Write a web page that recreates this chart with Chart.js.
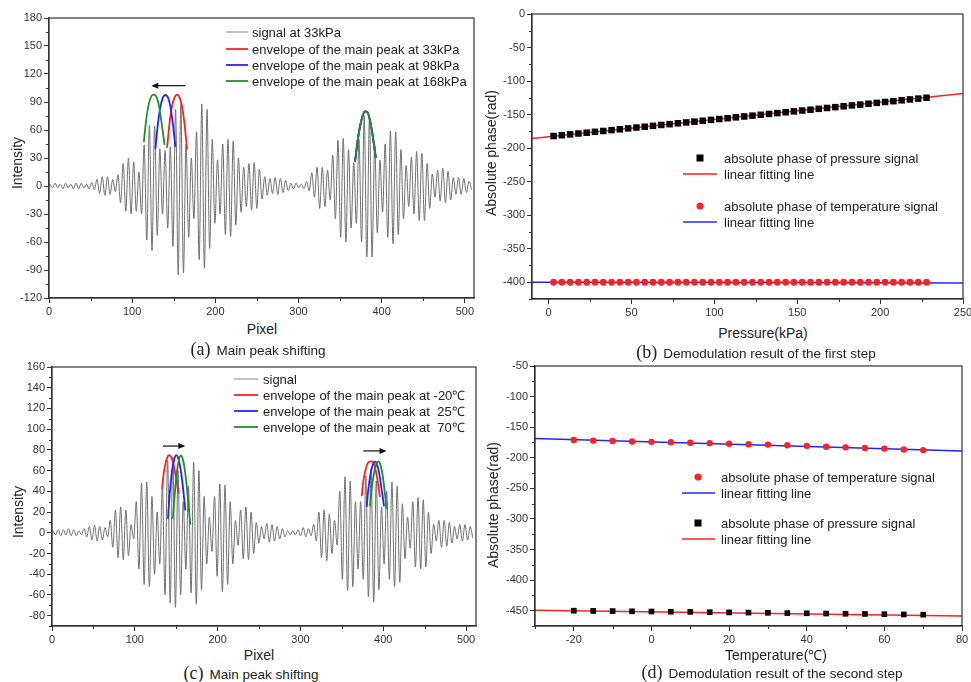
<!DOCTYPE html>
<html>
<head>
<meta charset="utf-8">
<script src="https://cdn.jsdelivr.net/npm/chart.js@4/dist/chart.umd.min.js"></script>
<style>
  body { margin: 0; background: #fff; width: 971px; height: 682px; position: relative; overflow: hidden; font-family: "Liberation Sans", Arial, sans-serif; color: #222; }
  canvas { position: absolute; }
  .t { position: absolute; white-space: nowrap; font-size: 14px; transform: translate(-50%, -50%); }
  .v { transform: translate(-50%, -50%) rotate(-90deg); }
  .cap { font-size: 13.5px; }
  .ser { font-family: "Liberation Serif", "Times New Roman", serif; font-size: 18px; margin-right: 6px; }
</style>
</head>
<body>
<canvas id="chartA" width="486" height="320" style="left:0;top:0"></canvas>
<canvas id="chartB" width="485" height="320" style="left:486px;top:0"></canvas>
<canvas id="chartC" width="486" height="292" style="left:0;top:355px"></canvas>
<canvas id="chartD" width="485" height="292" style="left:486px;top:355px"></canvas>

<div class="t v" style="left:17px;top:163px">Intensity</div>
<div class="t" style="left:262px;top:329px">Pixel</div>
<div class="t cap" style="left:258px;top:349px"><span class="ser">(a)</span>Main peak shifting</div>

<div class="t v" style="left:491px;top:153px">Absolute phase(rad)</div>
<div class="t" style="left:763px;top:333px">Pressure(kPa)</div>
<div class="t cap" style="left:756px;top:352px"><span class="ser">(b)</span>Demodulation result of the first step</div>

<div class="t v" style="left:18px;top:512px">Intensity</div>
<div class="t" style="left:259px;top:655px">Pixel</div>
<div class="t cap" style="left:251px;top:673px"><span class="ser">(c)</span>Main peak shifting</div>

<div class="t v" style="left:493px;top:505px">Absolute phase(rad)</div>
<div class="t" style="left:776px;top:654px">Temperature(℃)</div>
<div class="t cap" style="left:772px;top:672px"><span class="ser">(d)</span>Demodulation result of the second step</div>

<script>
// ---- data ----
// signals: one high/low pair per oscillation cycle, cycles spaced sigPeriod pixels apart
const sigStart = 1;
const sigPeriod = 6.3;
const sigAHi = [2,3,2,3,2,3,3,2,4,7,10,10,7,12,24,30,26,15,44,65,64,40,38,42,82,88,45,30,58,88,82,50,28,45,50,48,30,20,24,25,18,10,8,9,8,6,3,3,2,5,14,20,20,17,33,49,51,39,25,50,75,73,45,28,45,59,58,39,22,31,37,35,24,13,17,19,16,9,9,8,5];
const sigALo = [-2,-2,-3,-2,-3,-3,-2,-3,-4,-8,-10,-9,-6,-18,-27,-30,-27,-30,-58,-69,-53,-30,-45,-65,-95,-93,-55,-35,-79,-88,-67,-40,-30,-52,-54,-42,-28,-22,-26,-24,-14,-10,-8,-9,-7,-5,-3,-2,-3,-5,-12,-24,-22,-15,-35,-55,-60,-45,-40,-60,-76,-76,-50,-28,-55,-62,-52,-35,-22,-30,-37,-37,-24,-12,-16,-18,-15,-9,-9,-7,-4];
const sigCHi = [2,3,3,4,3,2,4,6,7,6,5,12,22,25,22,8,30,48,49,35,20,45,70,73,60,30,45,68,60,35,15,35,47,46,30,12,22,25,20,10,6,9,8,6,4,2,2,3,5,4,8,20,22,18,12,40,54,50,30,30,55,62,50,25,40,49,45,28,15,30,34,32,20,8,12,12,10,6,8,8,6];
const sigCLo = [-2,-3,-2,-3,-3,-2,-4,-7,-8,-7,-4,-14,-24,-26,-22,-6,-35,-50,-52,-40,-30,-60,-68,-72,-60,-35,-58,-69,-55,-30,-18,-42,-57,-50,-30,-12,-25,-26,-20,-10,-6,-9,-8,-6,-4,-2,-2,-3,-4,-3,-8,-24,-27,-20,-12,-45,-56,-52,-35,-45,-62,-67,-55,-30,-45,-52,-48,-25,-15,-33,-35,-33,-20,-8,-14,-13,-10,-6,-8,-7,-5];

// envelopes of the main peaks (x in pixel, y in intensity)
const envRedAX = [142,145,148,151,154,157,160,163,166, null, 368,371,374,377,380,383,386,389,393];
const envRedAY = [41,68,86,95,98,95,85,66,39, null, 26,48,64,75,80,79,70,55,30];
const envBlueAX = [128,131,134,137,140,143,146,149,152, null, 368,371,374,377,380,383,386,389,393];
const envBlueAY = [40,67,85,95,97.5,95,85,66,42, null, 26,48,64,75,80,79,70,55,30];
const envGreenAX = [114,117,120,123,126,129,132,135,139, null, 368,371,374,377,380,383,386,389,393];
const envGreenAY = [47,72,88,96,98,96,87,70,44, null, 26,48,64,75,80,79,70,55,30];

const envRedCX = [133,135,138,140,142,144,147,150,153, null, 374,376,379,382,385,388,391,394,396];
const envRedCY = [42.5,58,70,74,75,73,65,52,37.7, null, 35.4,50,62,68,69,68,60,46,34.5];
const envBlueCX = [140,142,145,148,150,152,155,158,161, null, 380,382,385,388,390,392,395,398,401];
const envBlueCY = [13.5,36,60,72,75,73,63,45,21.6, null, 25,42,58,67,69,67,58,42,25.4];
const envGreenCX = [146,148,151,153.5,155.5,158,161,164,167, null, 384,386,389,392,394,396,399,402,404];
const envGreenCY = [13.5,35,60,71,74.7,71,57,35,7.7, null, 25.4,42,58,67,69,67,57,38,23];

// arrows showing the peak shift (from x1 to x2 at height y)
const arrowsA = [{x1: 164, x2: 123, y: 107.5}];
const arrowsC = [{x1: 134, x2: 161, y: 83.7}, {x1: 376, x2: 404, y: 79}];

// (b) first step
const pressureKPa = [3,8,13,18,23,28,33,38,43,48,53,58,63,68,73,78,83,88,93,98,103,108,113,118,123,128,133,138,143,148,153,158,163,168,173,178,183,188,193,198,203,208,213,218,223,228];
const phasePressB = [-182,-180.8,-179.5,-178.2,-177,-175.7,-174.4,-173.2,-171.9,-170.6,-169.3,-168.1,-166.8,-165.5,-164.3,-163,-161.7,-160.5,-159.2,-157.9,-156.6,-155.4,-154.1,-152.8,-151.6,-150.3,-149,-147.8,-146.5,-145.2,-143.9,-142.7,-141.4,-140.1,-138.9,-137.6,-136.3,-135.1,-133.8,-132.5,-131.2,-130,-128.7,-127.4,-126.2,-124.9];
const phaseTempB = [-400,-400,-400,-400,-400,-400,-400,-400,-400,-400,-400,-400,-400,-400,-400,-400,-400,-400,-400,-400,-400,-400,-400,-400,-400,-400,-400,-400,-400,-400,-400,-400,-400,-400,-400,-400,-400,-400,-400,-400,-400,-400,-400,-400,-400,-400];
const fitPressB = [[-10, -185.5], [250, -118.5]];
const fitTempB = [[-10, -400], [250, -401]];

// (d) second step
const temperatureC = [-20,-15,-10,-5,0,5,10,15,20,25,30,35,40,45,50,55,60,65,70];
const phaseTempD = [-171,-172,-172.5,-173.5,-174,-174.5,-175.5,-176,-177,-178,-178.5,-179.5,-180.5,-182,-183,-184,-185,-186.5,-187.5];
const phasePressD = [-450,-450.3,-450.6,-451,-451.3,-451.7,-452,-452.4,-452.8,-453.1,-453.5,-453.9,-454.2,-454.6,-455,-455.3,-455.7,-456.1,-456.5];
const fitTempD = [[-30, -168.6], [80, -189]];
const fitPressD = [[-30, -449.2], [80, -458.8]];

// ticks
const xTicksA = [0,100,200,300,400,500], xMinorA = [50,150,250,350,450];
const yTicksA = [-120,-90,-60,-30,0,30,60,90,120,150,180], yMinorA = [-105,-75,-45,-15,15,45,75,105,135,165];
const xTicksB = [0,50,100,150,200,250], xMinorB = [25,75,125,175,225];
const yTicksB = [-400,-350,-300,-250,-200,-150,-100,-50,0], yMinorB = [-425,-375,-325,-275,-225,-175,-125,-75,-25];
const xTicksC = [0,100,200,300,400,500], xMinorC = [50,150,250,350,450];
const yTicksC = [-80,-60,-40,-20,0,20,40,60,80,100,120,140,160], yMinorC = [-90,-70,-50,-30,-10,10,30,50,70,90,110,130,150];
const xTicksD = [-20,0,20,40,60,80], xMinorD = [-30,-10,10,30,50,70];
const yTicksD = [-450,-400,-350,-300,-250,-200,-150,-100,-50], yMinorD = [-475,-425,-375,-325,-275,-225,-175,-125,-75];

// ---- helpers ----
const FONT = '"Liberation Sans", Arial, sans-serif';
const RED = '#ff2020', BLUE = '#2424ff', GREEN = '#1f8f2a';

function signal(hi, lo) {
  const pts = [{x: 0, y: 0}];
  hi.forEach((h, i) => {
    const x = sigStart + i * sigPeriod;
    pts.push({x: x, y: h});
    pts.push({x: x + sigPeriod / 2, y: lo[i]});
  });
  return pts;
}
function zip(xs, ys) {
  return xs.map((x, i) => ({x: x, y: ys[i]}));
}
function pairs(arr) {
  return arr.map(p => ({x: p[0], y: p[1]}));
}

function axis(min, max, ticks, size, horizontal) {
  return {
    type: 'linear', min: min, max: max,
    afterBuildTicks: s => { s.ticks = ticks.map(v => ({value: v})); },
    afterFit: s => {
      if (horizontal) s.height = size; else s.width = size;
      s.paddingLeft = 0; s.paddingRight = 0; s.paddingTop = 0; s.paddingBottom = 0;
    },
    grid: {display: true, drawOnChartArea: false, drawTicks: true, tickLength: 5, color: '#333', tickColor: '#333', tickWidth: 1},
    border: {display: true, color: '#333', width: 1.2},
    ticks: {color: '#333', font: {family: FONT, size: 11}, padding: 2, maxRotation: 0, autoSkip: false}
  };
}

const framePlugin = {
  id: 'frame',
  afterDraw(chart, args, opts) {
    const {ctx, chartArea: a, scales} = chart;
    ctx.save();
    ctx.strokeStyle = '#333';
    ctx.lineWidth = 1.2;
    ctx.strokeRect(a.left, a.top, a.right - a.left, a.bottom - a.top);
    ctx.lineWidth = 1;
    ctx.beginPath();
    opts.xMinor.forEach(v => {
      const px = Math.round(scales.x.getPixelForValue(v)) + 0.5;
      ctx.moveTo(px, a.bottom); ctx.lineTo(px, a.bottom + 3);
    });
    opts.yMinor.forEach(v => {
      const py = Math.round(scales.y.getPixelForValue(v)) + 0.5;
      ctx.moveTo(a.left - 3, py); ctx.lineTo(a.left, py);
    });
    ctx.stroke();
    ctx.restore();
  }
};

const arrowPlugin = {
  id: 'arrows',
  afterDatasetsDraw(chart, args, opts) {
    if (!opts.items) return;
    const {ctx, scales} = chart;
    ctx.save();
    ctx.strokeStyle = '#111';
    ctx.fillStyle = '#111';
    ctx.lineWidth = 1.2;
    opts.items.forEach(a => {
      const x1 = scales.x.getPixelForValue(a.x1), x2 = scales.x.getPixelForValue(a.x2);
      const y = scales.y.getPixelForValue(a.y);
      const dir = x2 > x1 ? 1 : -1;
      ctx.beginPath(); ctx.moveTo(x1, y); ctx.lineTo(x2 - dir * 4, y); ctx.stroke();
      ctx.beginPath(); ctx.moveTo(x2, y); ctx.lineTo(x2 - dir * 7, y - 3); ctx.lineTo(x2 - dir * 7, y + 3); ctx.closePath(); ctx.fill();
    });
    ctx.restore();
  }
};

const keyPlugin = {
  id: 'key',
  afterDraw(chart, args, opts) {
    const ctx = chart.ctx;
    ctx.save();
    ctx.font = '13px ' + FONT;
    ctx.fillStyle = '#222';
    ctx.textBaseline = 'middle';
    opts.items.forEach(it => {
      if (it.kind === 'line') {
        ctx.strokeStyle = it.color; ctx.lineWidth = it.width || 1.8;
        ctx.beginPath(); ctx.moveTo(opts.lineX[0], it.y); ctx.lineTo(opts.lineX[1], it.y); ctx.stroke();
      } else if (it.kind === 'rect') {
        ctx.fillStyle = it.color; ctx.fillRect(opts.markX - 3.5, it.y - 3.5, 7, 7);
      } else if (it.kind === 'circle') {
        ctx.fillStyle = it.color; ctx.beginPath(); ctx.arc(opts.markX, it.y, 3.5, 0, Math.PI * 2); ctx.fill();
      }
      ctx.fillStyle = '#222';
      ctx.fillText(it.text, opts.textX, it.y + 1);
    });
    ctx.restore();
  }
};

function lineSet(data, color, width, order) {
  return {data: data, borderColor: color, borderWidth: width, pointRadius: 0, fill: false,
          cubicInterpolationMode: 'monotone', spanGaps: false, order: order};
}
function pointSet(data, color, style, radius, order) {
  return {data: data, showLine: false, pointStyle: style, pointRadius: radius, pointBackgroundColor: color,
          pointBorderColor: color, pointBorderWidth: 0, order: order};
}

function makeChart(id, datasets, scales, padding, plugins) {
  return new Chart(document.getElementById(id), {
    type: 'line',
    data: {datasets: datasets},
    options: {
      responsive: false, animation: false, devicePixelRatio: 1,
      parsing: true,
      layout: {padding: padding},
      scales: scales,
      plugins: Object.assign({legend: {display: false}, tooltip: {enabled: false}}, plugins)
    },
    plugins: [framePlugin, arrowPlugin, keyPlugin]
  });
}

// ---- (a) ----
makeChart('chartA', [
  lineSet(zip(envGreenAX, envGreenAY), GREEN, 1.8, 1),
  lineSet(zip(envBlueAX, envBlueAY), BLUE, 1.8, 2),
  lineSet(zip(envRedAX, envRedAY), RED, 1.8, 3),
  lineSet(signal(sigAHi, sigALo), '#6e6e6e', 1, 4)
], {
  x: axis(0, 511, xTicksA, 22, true),
  y: axis(-120, 180, yTicksA, 49, false)
}, {top: 18, right: 12, left: 0, bottom: 0}, {
  frame: {xMinor: xMinorA, yMinor: yMinorA},
  arrows: {items: arrowsA},
  key: {lineX: [226, 248], textX: 252, items: [
    {kind: 'line', color: '#999', width: 1.2, y: 32, text: 'signal at 33kPa'},
    {kind: 'line', color: RED, y: 49, text: 'envelope of the main peak at 33kPa'},
    {kind: 'line', color: BLUE, y: 65, text: 'envelope of the main peak at 98kPa'},
    {kind: 'line', color: GREEN, y: 81, text: 'envelope of the main peak at 168kPa'}
  ]}
});

// ---- (b) ----
makeChart('chartB', [
  pointSet(zip(pressureKPa, phasePressB), '#000', 'rect', 4.6, 1),
  lineSet(pairs(fitPressB), RED, 1.5, 2),
  pointSet(zip(pressureKPa, phaseTempB), RED, 'circle', 3.4, 3),
  lineSet(pairs(fitTempB), BLUE, 1.5, 4)
], {
  x: axis(-10, 250, xTicksB, 21, true),
  y: axis(-425, 0, yTicksB, 46, false)
}, {top: 14, right: 8, left: 0, bottom: 0}, {
  frame: {xMinor: xMinorB, yMinor: yMinorB},
  key: {lineX: [197, 231], markX: 214, textX: 238, items: [
    {kind: 'rect', color: '#000', y: 158, text: 'absolute phase of pressure signal'},
    {kind: 'line', color: RED, width: 1.5, y: 174, text: 'linear fitting line'},
    {kind: 'circle', color: RED, y: 206, text: 'absolute phase of temperature signal'},
    {kind: 'line', color: BLUE, width: 1.5, y: 222, text: 'linear fitting line'}
  ]}
});

// ---- (c) ----
makeChart('chartC', [
  lineSet(zip(envGreenCX, envGreenCY), GREEN, 1.8, 1),
  lineSet(zip(envBlueCX, envBlueCY), BLUE, 1.8, 2),
  lineSet(zip(envRedCX, envRedCY), RED, 1.8, 3),
  lineSet(signal(sigCHi, sigCLo), '#6e6e6e', 1, 4)
], {
  x: axis(0, 512, xTicksC, 21, true),
  y: axis(-90, 160, yTicksC, 52, false)
}, {top: 12, right: 10, left: 0, bottom: 0}, {
  frame: {xMinor: xMinorC, yMinor: yMinorC},
  arrows: {items: arrowsC},
  key: {lineX: [234, 258], textX: 263, items: [
    {kind: 'line', color: '#999', width: 1.2, y: 24, text: 'signal'},
    {kind: 'line', color: RED, y: 40, text: 'envelope of the main peak at -20℃'},
    {kind: 'line', color: BLUE, y: 56, text: 'envelope of the main peak at  25℃'},
    {kind: 'line', color: GREEN, y: 72, text: 'envelope of the main peak at  70℃'}
  ]}
});

// ---- (d) ----
makeChart('chartD', [
  pointSet(zip(temperatureC, phaseTempD), RED, 'circle', 3.2, 1),
  lineSet(pairs(fitTempD), BLUE, 1.5, 2),
  pointSet(zip(temperatureC, phasePressD), '#000', 'rect', 4, 3),
  lineSet(pairs(fitPressD), RED, 1.5, 4)
], {
  x: axis(-30, 80, xTicksD, 21, true),
  y: axis(-475, -50, yTicksD, 49, false)
}, {top: 11, right: 9, left: 0, bottom: 0}, {
  frame: {xMinor: xMinorD, yMinor: yMinorD},
  key: {lineX: [196, 229], markX: 212, textX: 235, items: [
    {kind: 'circle', color: RED, y: 122, text: 'absolute phase of temperature signal'},
    {kind: 'line', color: BLUE, width: 1.5, y: 138, text: 'linear fitting line'},
    {kind: 'rect', color: '#000', y: 168, text: 'absolute phase of pressure signal'},
    {kind: 'line', color: RED, width: 1.5, y: 184, text: 'linear fitting line'}
  ]}
});
</script>
</body>
</html>
